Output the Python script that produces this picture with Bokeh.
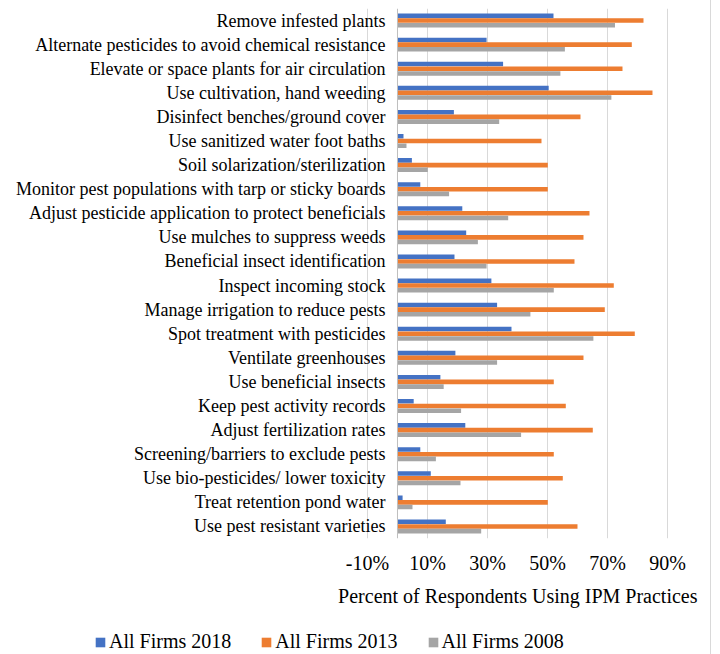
from bokeh.plotting import figure
from bokeh.models import (FactorRange, Range1d, FixedTicker, PrintfTickFormatter,
                          Span, Legend, LegendItem, Title)
from bokeh.transform import dodge
from bokeh.embed import file_html
from bokeh.resources import INLINE

# IPM practices, listed top to bottom
practices = [
    "Remove infested plants",
    "Alternate pesticides to avoid chemical resistance",
    "Elevate or space plants for air circulation",
    "Use cultivation, hand weeding",
    "Disinfect benches/ground cover",
    "Use sanitized water foot baths",
    "Soil solarization/sterilization",
    "Monitor pest populations with tarp or sticky boards",
    "Adjust pesticide application to protect beneficials",
    "Use mulches to suppress weeds",
    "Beneficial insect identification",
    "Inspect incoming stock",
    "Manage irrigation to reduce pests",
    "Spot treatment with pesticides",
    "Ventilate greenhouses",
    "Use beneficial insects",
    "Keep pest activity records",
    "Adjust fertilization rates",
    "Screening/barriers to exclude pests",
    "Use bio-pesticides/ lower toxicity",
    "Treat retention pond water",
    "Use pest resistant varieties",
]

# Percent of respondents using each practice
firms_2018 = [52.0, 29.7, 35.2, 50.4, 18.8, 2.0, 4.8, 7.6, 21.6, 22.9, 19.0,
              31.3, 33.2, 38.0, 19.3, 14.3, 5.4, 22.6, 7.6, 11.1, 1.7, 16.1]
firms_2013 = [82.0, 78.1, 75.0, 85.0, 61.0, 48.0, 50.1, 50.1, 64.0, 62.0, 59.0,
              72.1, 69.1, 79.1, 62.0, 52.1, 56.1, 65.1, 52.1, 55.1, 50.1, 60.0]
firms_2008 = [72.5, 55.8, 54.3, 71.3, 33.9, 3.0, 10.1, 17.2, 36.9, 26.8, 29.7,
              52.1, 44.3, 65.3, 33.2, 15.4, 21.2, 41.2, 12.8, 21.0, 5.0, 27.9]

series_names = ["All Firms 2018", "All Firms 2013", "All Firms 2008"]
series_colors = ["#4472C4", "#ED7D31", "#A5A5A5"]

x_ticks = [-10, 10, 30, 50, 70, 90]
axis_title = "Percent of Respondents Using IPM Practices"

FONT = "Liberation Serif"
BORDER = {"border-right": "1px solid #D9D9D9"}

data = dict(practice=practices, y2018=firms_2018, y2013=firms_2013, y2008=firms_2008)

# ---- main bar chart ----
p = figure(
    width=711, height=620,
    y_range=FactorRange(factors=list(reversed(practices)), range_padding=0),
    x_range=Range1d(-10.33, 104.67),
    output_backend="svg", toolbar_location=None,
    min_border_left=366, min_border_right=0, min_border_top=8, min_border_bottom=82,
)
p.outline_line_color = None
p.styles = BORDER

p.ygrid.grid_line_color = None
p.xgrid.ticker = FixedTicker(ticks=x_ticks)
p.xgrid.grid_line_color = "#D9D9D9"
p.xgrid.grid_line_width = 1

# Category axis line at zero
p.add_layout(Span(location=0, dimension="height", line_color="#BFBFBF", line_width=1))

bar_h = 0.19
offsets = [0.195, 0.0, -0.195]
cols = ["y2018", "y2013", "y2008"]
for col, off, color in zip(cols, offsets, series_colors):
    p.hbar(y=dodge("practice", off, range=p.y_range), right=col, left=0,
           height=bar_h, source=data, fill_color=color, line_color=None)

p.yaxis.axis_line_color = None
p.yaxis.major_tick_line_color = None
p.yaxis.minor_tick_line_color = None
p.yaxis.major_tick_out = 0
p.yaxis.major_label_standoff = -19
p.yaxis.major_label_text_font = FONT
p.yaxis.major_label_text_font_size = "18px"
p.yaxis.major_label_text_color = "#000000"

p.xaxis.ticker = FixedTicker(ticks=x_ticks)
p.xaxis.formatter = PrintfTickFormatter(format="%d%%")
p.xaxis.axis_line_color = None
p.xaxis.major_tick_line_color = None
p.xaxis.minor_tick_line_color = None
p.xaxis.major_tick_out = 0
p.xaxis.major_label_standoff = 13
p.xaxis.major_label_text_font = FONT
p.xaxis.major_label_text_font_size = "20px"
p.xaxis.major_label_text_color = "#000000"

# Axis title under the tick labels
p.add_layout(Title(text=axis_title, align="right", offset=14, standoff=12,
                   text_font=FONT, text_font_size="20px", text_font_style="normal",
                   text_color="#000000"), "below")

# ---- legend strip ----
foot = figure(
    width=711, height=34,
    x_range=Range1d(0, 711), y_range=Range1d(0, 34),
    output_backend="svg", toolbar_location=None,
    min_border=0, min_border_left=0, min_border_right=0,
    min_border_top=0, min_border_bottom=0,
)
foot.outline_line_color = None
foot.axis.visible = False
foot.grid.visible = False
foot.styles = BORDER

# zero-size quads that only serve as legend swatches
swatches = [foot.quad(left=[0], right=[0], bottom=[0], top=[0],
                      fill_color=c, line_color=None)
            for c in series_colors]
legend = Legend(
    items=[LegendItem(label=n, renderers=[r]) for n, r in zip(series_names, swatches)],
    orientation="horizontal", location=(94, 1),
    glyph_width=12, glyph_height=12, label_standoff=3, spacing=29,
    padding=0, margin=0, border_line_color=None, background_fill_alpha=0,
    label_text_font=FONT, label_text_font_size="20px", label_text_color="#000000",
)
foot.add_layout(legend, "center")

open("out.html", "w").write(file_html([p, foot], INLINE))
